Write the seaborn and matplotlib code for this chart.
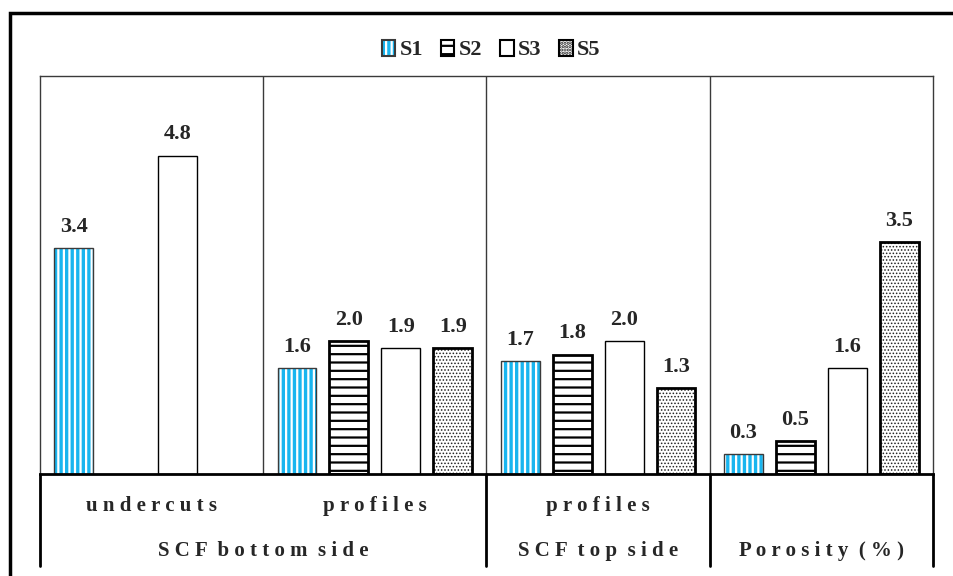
import matplotlib
matplotlib.use('Agg')
import matplotlib.pyplot as plt
import matplotlib.patches as mpatches
import matplotlib.transforms as mtransforms
import pandas as pd
import seaborn as sns
import numpy as np

# data
groups = ['undercuts', 'profiles_bottom', 'profiles_top', 'porosity']
tick_labels = ['undercuts', 'profiles', 'profiles', '']
series = ['S1', 'S2', 'S3', 'S5']
s1 = [3.4, 1.6, 1.7, 0.3]
s2 = [np.nan, 2.0, 1.8, 0.5]
s3 = [4.8, 1.9, 2.0, 1.6]
s5 = [np.nan, 1.9, 1.3, 3.5]
top_labels = ['SCF bottom side', 'SCF top side', 'Porosity (%)']
top_label_pos = [0.5, 2.0, 3.0]
group_edges = [-0.5, 1.5, 2.5, 3.5]

sns.set_style('white')
plt.rcParams['font.family'] = ['Liberation Serif', 'DejaVu Serif']
plt.rcParams['font.weight'] = 'bold'
plt.rcParams['hatch.linewidth'] = 1.6

rows = []
for name, vals in zip(series, [s1, s2, s3, s5]):
    for g, v in zip(groups, vals):
        rows.append({'group': g, 'series': name, 'value': v})
df = pd.DataFrame(rows)

styles = {
    'S1': dict(face='#19b5ef', hatch='|||', hatch_col='white', edge='#3a3a3a', lw=1.0, hlw=1.6),
    'S2': dict(face='white', hatch='--', hatch_col='black', edge='black', lw=2.0, hlw=1.6),
    'S3': dict(face='white', hatch=None, hatch_col='black', edge='black', lw=1.0, hlw=1.0),
    'S5': dict(face='white', hatch='.....', hatch_col='#222222', edge='black', lw=2.0, hlw=0.7),
}

FS = 15

fig = plt.figure(figsize=(9.54, 5.76), dpi=100)
ax = fig.add_axes([40 / 954, 1 - 474 / 576, (933 - 40) / 954, (474 - 76) / 576])

sns.barplot(data=df, x='group', y='value', hue='series', order=groups,
            hue_order=series, width=0.93, gap=0.25, ax=ax, legend=False,
            errorbar=None)

ax.set_xlim(-0.5, 3.5)
ax.set_ylim(0, 6)

def set_hlw(p, w):
    if hasattr(p, 'set_hatch_linewidth'):
        p.set_hatch_linewidth(w)

def style_bar(p, st):
    p.set_facecolor(st['face'])
    if st['hatch']:
        p.set_hatch(st['hatch'])
        set_hlw(p, st['hlw'])
        p.set_edgecolor(st['hatch_col'])
        p.set_linewidth(0)
        # outline on top of the hatched bar
        x, y = p.get_xy()
        ax.add_patch(mpatches.Rectangle((x, y), p.get_width(), p.get_height(),
                                        fill=False, edgecolor=st['edge'],
                                        linewidth=st['lw'], zorder=p.get_zorder() + 0.1))
    else:
        p.set_edgecolor(st['edge'])
        p.set_linewidth(st['lw'])

for name, cont in zip(series, ax.containers):
    st = styles[name]
    for p in cont.patches:
        if np.isnan(p.get_height()) or p.get_height() == 0:
            continue
        style_bar(p, st)
    ax.bar_label(cont, labels=['' if np.isnan(v) else f'{v:.1f}' for v in cont.datavalues],
                 padding=8, fontsize=FS + 1, fontweight='bold')

# separators inside the plot
for xv in [0.5, 1.5, 2.5]:
    ax.axvline(xv, color='#3a3a3a', lw=1.0, zorder=0.5)

for side in ['left', 'right', 'top']:
    ax.spines[side].set_color('#3a3a3a')
    ax.spines[side].set_linewidth(1.0)
ax.spines['bottom'].set_color('black')
ax.spines['bottom'].set_linewidth(2.0)

ax.set_xticks([])
ax.set_yticks([])
ax.set_xlabel('')
ax.set_ylabel('')

# two-level category labels below the axis
trans = mtransforms.blended_transform_factory(ax.transData, ax.transAxes)
def spaced(s):
    return ' '.join(list(s)).replace('   ', '  ')

for i, lab in enumerate(tick_labels):
    if lab:
        ax.text(i, -0.08, spaced(lab), transform=trans, ha='center', va='center',
                fontsize=FS, fontweight='bold')
for pos, lab in zip(top_label_pos, top_labels):
    ax.text(pos, -0.193, spaced(lab), transform=trans, ha='center', va='center',
            fontsize=FS, fontweight='bold')
for xv in group_edges:
    ax.plot([xv, xv], [0, -0.232], transform=trans, color='black', lw=2.0,
            clip_on=False)

# legend: hatched fill plus an outline drawn on top
handles = []
for name in series:
    st = styles[name]
    outline = mpatches.Patch(facecolor='none', edgecolor=st['edge'], linewidth=1.5)
    if st['hatch']:
        fill = mpatches.Patch(facecolor=st['face'], edgecolor=st['hatch_col'],
                              hatch=st['hatch'], linewidth=0)
        set_hlw(fill, st['hlw'])
        handles.append((fill, outline))
    else:
        handles.append(outline)
fig.legend(handles=handles, labels=series, loc='center',
           bbox_to_anchor=(0.515, 1 - 50 / 576), ncol=4,
           frameon=False, handlelength=0.6, handleheight=0.75, handletextpad=0.2,
           columnspacing=0.8, prop={'size': FS + 1, 'weight': 'bold'})

# outer frame
fig.patches.append(mpatches.Rectangle((10 / 954, -0.05), 1.0, 1 - 13 / 576 + 0.05,
                                      transform=fig.transFigure, fill=False,
                                      edgecolor='black', linewidth=2.5))

fig.savefig('out.png', dpi=100)
